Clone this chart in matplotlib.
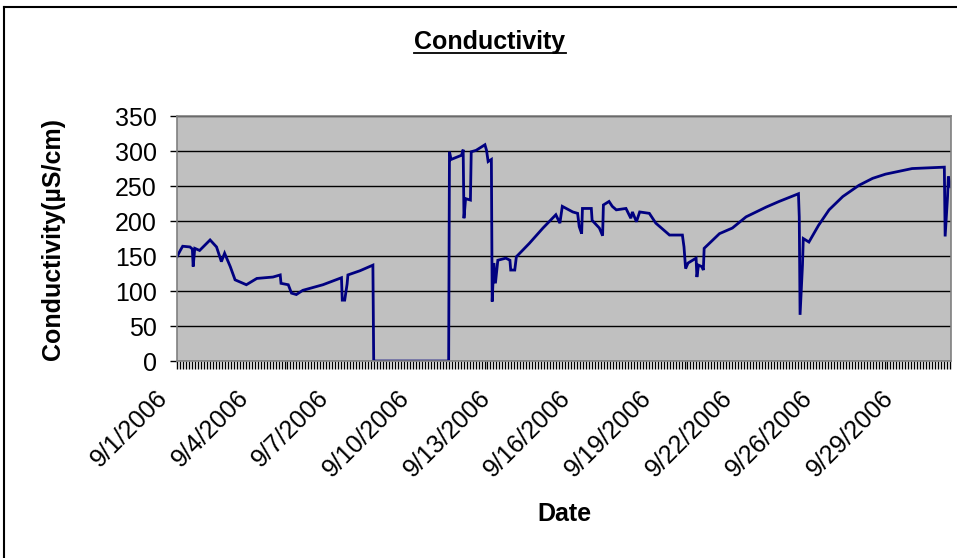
import matplotlib
matplotlib.use("Agg")
import matplotlib.pyplot as plt
from matplotlib.ticker import MultipleLocator, FixedLocator, NullFormatter
from matplotlib.lines import Line2D
from matplotlib.transforms import ScaledTranslation

plt.rcParams['font.family'] = ['Liberation Sans', 'DejaVu Sans']

# sample position along the category axis, and conductivity
sample = [0, 4, 7, 16, 19, 20, 22, 28, 41, 49, 55, 59, 66, 72, 86, 99, 119, 128,
          129, 138, 142, 148, 156, 181, 204, 205, 208, 211, 212, 227, 243, 244,
          337, 338, 340, 353, 355, 356, 358, 364, 365, 371, 382, 384, 386, 390,
          391, 393, 395, 398, 408, 413, 414, 419, 421, 437, 454, 470, 475, 478,
          491, 497, 499, 502, 503, 514, 515, 524, 528, 529, 536, 540, 545, 557,
          563, 565, 570, 574, 586, 594, 611, 627, 629, 631, 634, 644, 645, 647,
          651, 653, 654, 673, 689, 706, 731, 747, 771, 772, 773, 776, 777, 784,
          796, 809, 826, 846, 863, 879, 912, 952, 953, 956, 957, 960]
conductivity = [149, 158, 164, 163, 160, 135, 161, 158, 173, 163, 142, 154, 135,
                116, 109, 118, 120, 123, 111, 109, 97, 95, 101, 109, 119, 87, 87,
                110, 123, 129, 137, 0, 0, 299, 288, 294, 302, 204, 232, 230, 299,
                301, 309, 301, 285, 288, 85, 140, 111, 144, 147, 144, 130, 130,
                149, 168, 190, 209, 197, 221, 213, 211, 192, 182, 218, 218, 201,
                190, 179, 223, 228, 221, 216, 218, 204, 213, 199, 213, 211, 197,
                180, 180, 163, 132, 140, 147, 120, 137, 135, 130, 161, 182, 190,
                206, 220, 228, 239, 206, 66, 137, 175, 170, 194, 216, 235, 251,
                261, 267, 275, 277, 178, 235, 264, 249]

date_labels = ['9/1/2006', '9/4/2006', '9/7/2006', '9/10/2006', '9/13/2006',
               '9/16/2006', '9/19/2006', '9/22/2006', '9/26/2006', '9/29/2006']
label_every = 100
n_samples = 960

fig = plt.figure(figsize=(9.57, 5.58), dpi=100)
ax = fig.add_axes([0.185, 0.353, 0.8085, 0.439])
ax.set_facecolor('#C0C0C0')

ax.plot(sample, conductivity, color='#000080', lw=2, solid_joinstyle='miter')

ax.set_xlim(0, n_samples)
ax.set_ylim(0, 350)
ax.yaxis.set_major_locator(MultipleLocator(50))
ax.grid(axis='y', color='black', lw=1)
ax.set_axisbelow(True)
ax.tick_params(axis='y', labelsize=18, length=5, width=1, direction='out', pad=9.5)

ax.xaxis.set_major_locator(FixedLocator([i * label_every for i in range(len(date_labels))]))
ax.set_xticklabels(date_labels, rotation=45, ha='right', va='center',
                   rotation_mode='anchor', fontsize=18)
ax.xaxis.set_minor_locator(MultipleLocator(label_every / 27))
ax.xaxis.set_minor_formatter(NullFormatter())
ax.tick_params(axis='x', which='both', length=5.8, width=1, direction='out', pad=18)
shift = ScaledTranslation(-13 / 100, 0, fig.dpi_scale_trans)
for lab in ax.get_xticklabels():
    lab.set_transform(lab.get_transform() + shift)

for side in ['top', 'right', 'left', 'bottom']:
    ax.spines[side].set_color('#808080')
    ax.spines[side].set_linewidth(1.2)

ax.set_ylabel('Conductivity(µS/cm)', fontsize=18, fontweight='bold')
ax.yaxis.set_label_coords(-0.145, 0.5)
ax.set_xlabel('Date', fontsize=18, fontweight='bold')
ax.xaxis.set_label_coords(0.501, -0.576)

title = fig.text(0.512, 0.925, 'Conductivity', ha='center', va='center',
                 fontsize=18, fontweight='bold')

# outer chart border (left and top edges visible)
fig.add_artist(Line2D([4 / 957, 4 / 957], [0, 1 - 7 / 558], color='black', lw=1.5,
                      transform=fig.transFigure))
fig.add_artist(Line2D([4 / 957, 1], [1 - 7 / 558, 1 - 7 / 558], color='black', lw=1.5,
                      transform=fig.transFigure))

# underline the title
fig.canvas.draw()
bb = title.get_window_extent().transformed(fig.transFigure.inverted())
fig.add_artist(Line2D([bb.x0, bb.x1], [bb.y0 + 0.002, bb.y0 + 0.002], color='black',
                      lw=1.3, transform=fig.transFigure))

fig.savefig('out.png', dpi=100)
